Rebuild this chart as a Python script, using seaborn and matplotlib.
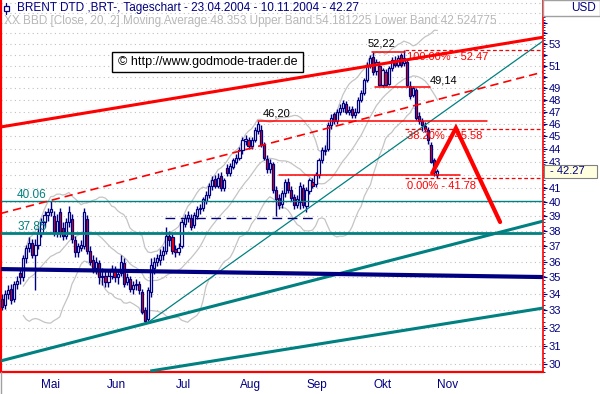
import numpy as np
import pandas as pd
import matplotlib
matplotlib.use('Agg')
import matplotlib.pyplot as plt
import seaborn as sns
from matplotlib import font_manager
from matplotlib.patches import Rectangle
from matplotlib.lines import Line2D
from matplotlib.ticker import FixedLocator, NullFormatter

sns.set_style('white')
plt.rcParams['font.family'] = ['Liberation Sans', 'DejaVu Sans']
installed = {f.name for f in font_manager.fontManager.ttflist}
NARROW = 'Liberation Sans Narrow' if 'Liberation Sans Narrow' in installed else 'Liberation Sans'

NAVY = '#000080'
RED = '#ff0000'
TEAL = '#008080'
GRAY = '#c4c4c4'

# daily OHLC, 23.04.2004 - 10.11.2004
opens = [
    33.7, 33.3, 34.0, 34.3, 33.7, 34.6, 35.3, 35.0, 36.2, 36.9,
    37.2, 36.4, 37.1, 37.9, 38.6, 39.1, 39.3, 39.0, 37.9, 39.3,
    38.2, 37.7, 38.6, 38.8, 37.4, 36.6, 36.9, 37.0, 38.8, 36.7,
    36.1, 35.6, 35.9, 35.0, 35.1, 34.7, 35.1, 35.5, 35.0, 35.3,
    35.9, 34.7, 34.9, 34.3, 34.5, 34.6, 34.1, 33.0, 32.5, 34.1,
    35.6, 36.0, 36.1, 36.4, 36.7, 37.7, 37.6, 36.8, 36.6, 37.0,
    38.5, 38.9, 38.9, 38.4, 39.0, 39.5, 39.6, 40.1, 40.5, 41.2,
    41.7, 41.2, 41.9, 41.0, 42.5, 42.1, 42.6, 43.0, 43.3, 43.9,
    44.6, 44.7, 44.2, 44.7, 45.4, 45.5, 44.3, 43.2, 42.4, 42.8,
    40.9, 40.3, 39.9, 40.7, 41.5, 40.9, 40.4, 39.8, 40.0, 41.0,
    39.7, 40.8, 41.5, 41.3, 42.0, 43.1, 43.8, 44.0, 45.9, 46.8,
    46.2, 47.0, 47.3, 47.6, 47.0, 47.2, 46.7, 47.0, 48.0, 48.6,
    49.7, 51.1, 51.8, 50.5, 51.0, 49.3, 50.4, 49.4, 50.8, 51.5,
    51.1, 52.0, 51.2, 51.3, 49.2, 48.4, 48.8, 46.6, 46.2, 45.8,
    45.5, 44.3, 43.1, 42.0]
highs = [
    34.0, 34.2, 34.5, 34.6, 34.8, 35.1, 35.6, 36.4, 37.1, 37.6,
    37.5, 37.5, 38.2, 38.9, 39.4, 39.6, 40.06, 39.4, 39.2, 39.6,
    38.6, 38.9, 39.7, 39.2, 37.7, 37.2, 37.4, 39.6, 39.1, 37.0,
    36.4, 36.3, 36.1, 35.6, 35.4, 35.5, 35.8, 35.7, 35.5, 36.4,
    36.2, 35.3, 35.1, 34.8, 34.9, 34.8, 34.3, 33.2, 34.4, 36.2,
    36.3, 36.5, 36.8, 37.0, 38.3, 38.0, 37.8, 37.1, 37.2, 38.8,
    39.2, 39.4, 39.2, 39.3, 39.7, 39.9, 40.4, 40.8, 41.4, 41.9,
    42.0, 42.1, 42.2, 41.8, 42.8, 42.9, 43.3, 43.6, 44.1, 44.9,
    45.1, 44.9, 44.9, 45.7, 46.2, 45.9, 44.5, 43.5, 43.2, 43.0,
    41.2, 40.6, 40.9, 41.7, 41.8, 41.2, 40.6, 40.5, 41.5, 41.3,
    41.1, 41.8, 41.8, 42.2, 43.3, 44.1, 44.3, 46.1, 46.8, 47.0,
    47.2, 47.6, 48.0, 47.9, 47.5, 47.5, 47.3, 48.2, 48.8, 49.9,
    51.3, 52.0, 52.22, 51.6, 51.4, 50.8, 50.7, 51.0, 51.8, 51.9,
    52.0, 52.2, 52.47, 51.6, 49.6, 49.2, 49.0, 47.0, 46.5, 46.1,
    45.7, 44.5, 43.3, 42.4]
lows = [
    33.0, 33.1, 33.7, 33.4, 33.5, 34.3, 34.6, 34.8, 35.9, 36.6,
    36.2, 34.2, 36.8, 37.6, 38.3, 38.7, 39.0, 37.7, 37.6, 37.6,
    37.4, 37.5, 38.3, 37.2, 36.3, 36.3, 36.7, 36.8, 36.5, 35.8,
    35.3, 35.2, 34.6, 34.5, 34.4, 34.4, 34.9, 34.7, 34.6, 35.1,
    34.4, 34.5, 34.1, 34.0, 34.2, 34.0, 32.8, 32.2, 32.3, 33.8,
    35.2, 35.7, 35.8, 36.1, 36.5, 37.0, 36.5, 36.3, 36.4, 36.9,
    38.3, 38.6, 38.1, 38.2, 38.8, 39.2, 39.4, 39.9, 40.3, 40.9,
    41.0, 41.0, 40.8, 40.8, 41.9, 41.9, 42.4, 42.8, 43.1, 43.6,
    44.3, 44.0, 44.0, 44.5, 45.2, 44.1, 43.1, 42.1, 42.1, 40.7,
    39.0, 39.5, 39.6, 40.4, 40.7, 40.1, 39.5, 39.6, 39.5, 39.6,
    39.3, 40.6, 41.0, 41.1, 41.8, 42.9, 43.5, 43.8, 45.6, 46.0,
    46.0, 46.7, 47.0, 46.8, 46.7, 46.5, 46.5, 46.9, 47.8, 48.4,
    49.5, 50.8, 50.2, 50.2, 49.2, 49.14, 49.2, 49.3, 50.5, 50.9,
    50.9, 50.9, 51.0, 49.1, 48.1, 48.2, 46.3, 46.0, 45.4, 45.3,
    44.4, 42.9, 41.9, 41.78]
closes = [
    33.2, 34.0, 34.2, 33.6, 34.6, 34.8, 35.0, 36.2, 36.9, 37.2,
    36.4, 37.1, 37.9, 38.6, 39.1, 39.3, 39.5, 37.9, 38.7, 37.9,
    37.7, 38.6, 39.3, 37.5, 36.6, 37.0, 37.1, 39.3, 36.7, 36.0,
    35.6, 36.0, 35.0, 35.1, 34.7, 35.1, 35.5, 35.0, 35.2, 36.0,
    34.6, 35.0, 34.3, 34.5, 34.6, 34.2, 32.9, 32.4, 34.2, 35.8,
    36.0, 36.2, 36.4, 36.7, 37.7, 37.4, 36.7, 36.6, 36.9, 38.6,
    38.9, 39.1, 38.3, 39.1, 39.5, 39.6, 40.2, 40.5, 41.2, 41.6,
    41.2, 41.8, 41.0, 41.6, 42.1, 42.7, 43.1, 43.3, 43.9, 44.7,
    44.8, 44.2, 44.7, 45.5, 46.0, 44.3, 43.3, 42.4, 42.9, 40.9,
    40.2, 39.8, 40.7, 41.5, 40.9, 40.3, 39.8, 40.2, 41.2, 39.8,
    40.9, 41.6, 41.2, 42.0, 43.1, 43.9, 43.9, 45.9, 46.5, 46.2,
    47.0, 47.3, 47.7, 47.0, 47.1, 46.7, 47.0, 48.0, 48.6, 49.7,
    51.1, 51.7, 50.4, 51.3, 49.3, 50.6, 49.3, 50.8, 51.5, 51.1,
    51.7, 51.1, 51.7, 49.3, 48.3, 49.0, 46.5, 46.2, 45.9, 45.6,
    44.7, 43.0, 42.2, 42.27]

# drawn trend lines: [x0 (day index), price0, x1, price1]
red_channel = [-0.6, 45.72, 177.7, 53.64]
red_channel_mid = [-0.6, 39.2, 177.7, 50.42]
teal_trend_thin = [47.7, 32.27, 177.7, 53.28]
teal_trend_a = [-0.6, 30.16, 177.7, 38.68]
teal_trend_b = [48.7, 29.63, 177.7, 33.14]
navy_support = [-0.6, 35.52, 177.7, 35.02]
navy_dashed = [53.5, 38.89, 103.5, 38.89]

teal_levels = [40.06, 37.85]
teal_labels = ['40.06', '37.85']

# red horizontal marks: price, start index, end index, label
red_marks = [(46.20, 84.1, 159.3, '46,20'), (41.98, 91.0, 150.5, None),
             (52.22, 121.6, 132.4, '52,22'), (49.14, 122.6, 140.6, '49,14')]

fib_levels = [52.47, 45.58, 41.78]
fib_pcts = ['100.00%', '38.20%', '0.00%']

projection_x = [141.3, 149.1, 163.6]
projection_y = [42.13, 45.64, 38.62]

months = ['Mai', 'Jun', 'Jul', 'Aug', 'Sep', 'Okt', 'Nov']
last_price = 42.27

n = len(closes)
df = pd.DataFrame({'i': np.arange(n), 'open': opens, 'high': highs,
                   'low': lows, 'close': closes})
roll = df['close'].rolling(20, min_periods=8)
df['mid'] = roll.mean()
sd = roll.std(ddof=0)
df['upper'] = df['mid'] + 2 * sd
df['lower'] = df['mid'] - 2 * sd

fig = plt.figure(figsize=(6, 3.94), dpi=100, facecolor='white')
ax = fig.add_axes([1 / 600, 22 / 394, 542 / 600, 372 / 394])
ax.set_yscale('log')
ax.set_ylim(29.58, 57.31)
ax.set_xlim(-0.3, 177.7)

# bollinger bands
for col in ['upper', 'mid', 'lower']:
    sns.lineplot(data=df, x='i', y=col, ax=ax, color=GRAY, lw=0.9, zorder=1)

# candles
up = df['close'] >= df['open']
ax.vlines(df['i'], df['low'], df['high'], color=NAVY, lw=1.0, zorder=2)
body = np.maximum((df['close'] - df['open']).abs(), 0.06)
ax.bar(df['i'], body, bottom=np.minimum(df['open'], df['close']), width=0.72,
       color=np.where(up, 'white', RED), edgecolor=NAVY, lw=0.9, zorder=3)


def seg(line, **kw):
    ax.plot([line[0], line[2]], [line[1], line[3]], solid_capstyle='butt', **kw)


seg(teal_trend_a, color=TEAL, lw=2.2, zorder=4)
seg(teal_trend_b, color=TEAL, lw=2.2, zorder=4)
seg(teal_trend_thin, color=TEAL, lw=0.9, zorder=4)
seg(navy_support, color=NAVY, lw=3.0, zorder=4)
seg(navy_dashed, color=NAVY, lw=1.0, dashes=(7, 4), zorder=4)
seg(red_channel, color=RED, lw=2.2, zorder=5)
seg(red_channel_mid, color=RED, lw=1.2, dashes=(5, 3), zorder=5)

for lvl, lw in zip(teal_levels, [1.0, 2.0]):
    ax.axhline(lvl, color=TEAL, lw=lw, zorder=4)
ax.text(5.0, 40.52, teal_labels[0], color=TEAL, fontsize=8.5, va='center', zorder=6)
ax.text(5.0, 38.27, teal_labels[1], color=TEAL, fontsize=8.5, va='center', zorder=6)

label_pos = {'46,20': (85.5, 46.8), '52,22': (120.0, 53.0), '49,14': (140.6, 49.71)}
for price, x0, x1, lab in red_marks:
    ax.plot([x0, x1], [price, price], color=RED, lw=1.1, zorder=5)
    if lab:
        lx, ly = label_pos[lab]
        ax.text(lx, ly, lab, color='black', fontsize=8, va='center', zorder=6)

fib_text_y = [51.78, 45.0, 41.17]
for lvl, pct, ty in zip(fib_levels, fib_pcts, fib_text_y):
    ax.plot([132.4, 177.7], [lvl, lvl], color=RED, lw=0.9, dashes=(3, 2), zorder=5)
    ax.text(133.1, ty, f'{pct} - {lvl:.2f}', color=RED, fontsize=8, va='center', zorder=6)

ax.plot(projection_x, projection_y, color=RED, lw=3.0, zorder=7, solid_joinstyle='miter')

# y axis on the right (42 sits under the last-price box)
major = list(range(30, 58))
shown = (set(range(30, 50)) - {42}) | {51, 53}
ax.yaxis.set_major_locator(FixedLocator(major))
ax.yaxis.set_minor_locator(FixedLocator(np.arange(29.6, 57.3, 0.25)))
ax.yaxis.set_minor_formatter(NullFormatter())
ax.set_yticklabels([str(v) if v in shown else '' for v in major])
ax.yaxis.tick_right()
ax.tick_params(axis='y', which='major', direction='out', length=3, width=0.8,
               color=NAVY, labelcolor=NAVY, labelsize=8, pad=1)
ax.tick_params(axis='y', which='minor', direction='out', length=1.2, width=0.6, color=NAVY)
for t in ax.get_yticklabels():
    t.set_family(NARROW)
ax.yaxis.grid(True, which='major', color='#c0c0c0', linestyle=(0, (1, 3)), lw=0.8)
ax.set_axisbelow(True)

# month ticks from the business-day calendar
cal = pd.bdate_range('2004-04-23', '2004-11-30')
pos = pd.Series(np.arange(len(cal)), index=cal)
per = cal.to_period('M')
starts = pos.groupby(per).min().iloc[1:]
mids = pos.groupby(per).mean().iloc[1:]
ax.set_xticks(starts.values)
ax.set_xticklabels([''] * len(starts))
ax.set_xticks(mids.values, minor=True)
ax.set_xticklabels(months, minor=True, fontfamily=NARROW)
ax.tick_params(axis='x', which='major', direction='out', length=4, width=0.8, color=NAVY)
ax.tick_params(axis='x', which='minor', length=0, labelcolor=NAVY, labelsize=8.5, pad=5)
ax.set_xlabel('')
ax.set_ylabel('')

for side in ['left', 'right', 'bottom']:
    ax.spines[side].set_color(RED)
ax.spines['left'].set_linewidth(1.6)
ax.spines['right'].set_linewidth(1.2)
ax.spines['bottom'].set_linewidth(1.6)
ax.spines['top'].set_visible(False)

# header texts and boxes
fig.text(17 / 600, 1 - 8 / 394, 'BRENT DTD ,BRT-, Tageschart - 23.04.2004 - 10.11.2004 - 42.27',
         color=NAVY, fontsize=8.5, va='center', zorder=10)
fig.add_artist(Line2D([6 / 600, 6 / 600], [1 - 3 / 394, 1 - 14 / 394], color=NAVY, lw=0.9))
fig.add_artist(Rectangle((3.5 / 600, 1 - 11 / 394), 5 / 600, 5 / 394, facecolor='white',
                         edgecolor=NAVY, lw=0.9, zorder=11))
fig.text(4 / 600, 1 - 21 / 394,
         'XX BBD [Close, 20, 2] Moving Average:48.353 Upper Band:54.181225 Lower Band:42.524775',
         color='#b8b8b8', fontsize=8.5, va='center', zorder=10)

fig.add_artist(Rectangle((112 / 600, 1 - 72 / 394), 191 / 600, 20 / 394, facecolor='white',
                         edgecolor='black', lw=1, zorder=10))
fig.text(207.5 / 600, 1 - 62 / 394, '\u00a9 http://www.godmode-trader.de', color='black',
         fontsize=9, ha='center', va='center', zorder=11)

fig.add_artist(Rectangle((543 / 600, 1 - 16 / 394), 57 / 600, 16 / 394, facecolor='white',
                         edgecolor='#a0a0a0', lw=1, zorder=10))
fig.text(584 / 600, 1 - 8 / 394, 'USD', color=NAVY, fontsize=8.5, ha='center', va='center',
         zorder=11, family=NARROW)

fig.add_artist(Rectangle((544 / 600, 1 - 178 / 394), 53 / 600, 13 / 394, facecolor='#ffffe0',
                         edgecolor='#808080', lw=0.8, zorder=10))
fig.text(550 / 600, 1 - 171.5 / 394, f'- {last_price:.2f}', color=NAVY, fontsize=8, va='center',
         zorder=11, family=NARROW)

fig.add_artist(Line2D([0.5 / 600, 0.5 / 600], [0, 22 / 394], color='#a0a0a0', lw=1))

fig.savefig('out.png', dpi=100, facecolor='white')
